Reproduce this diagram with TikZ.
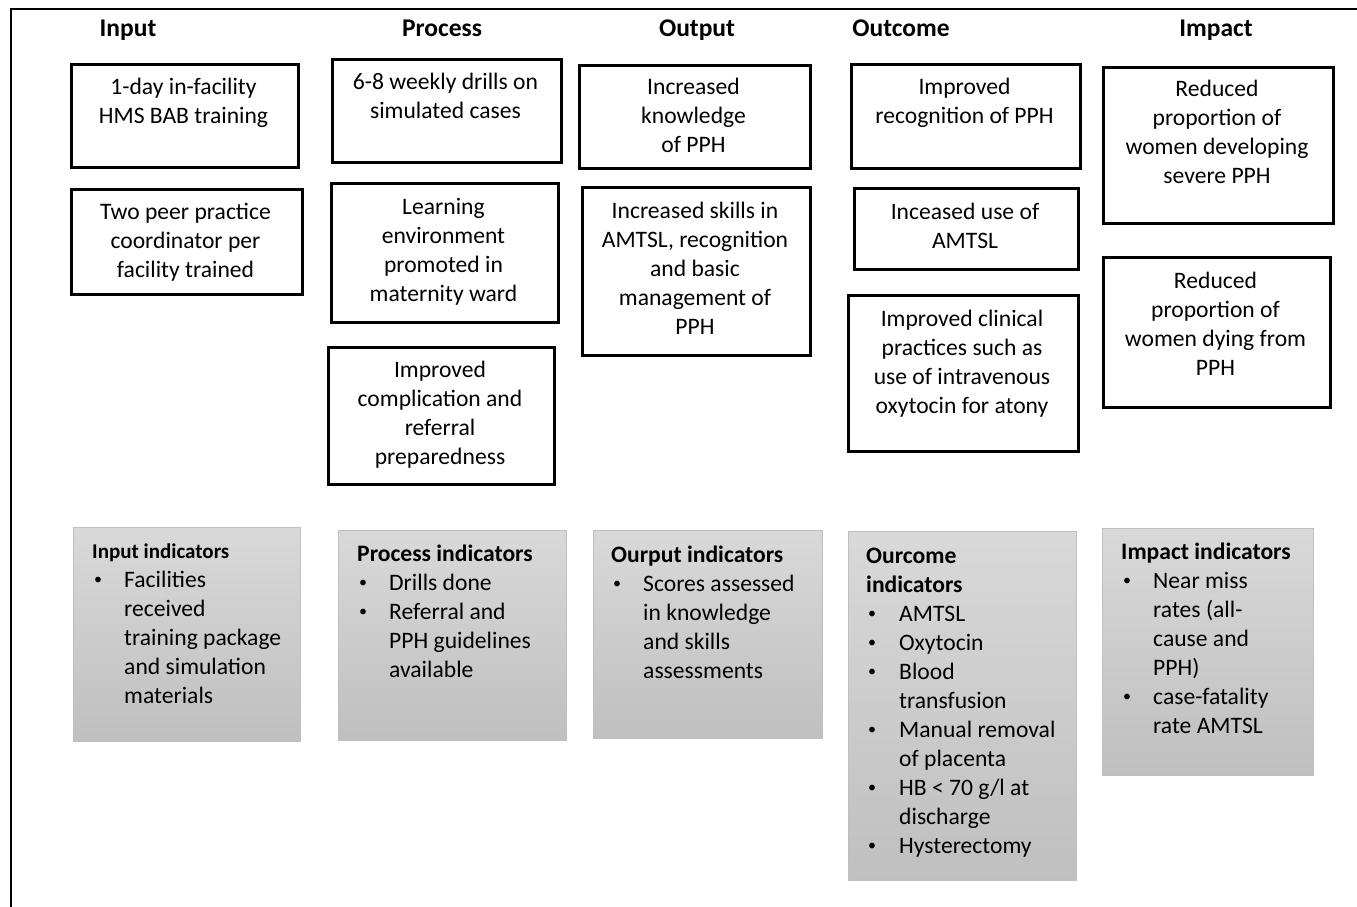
\documentclass[tikz,border=0pt]{standalone}
\usepackage{fontspec}
\setmainfont{Carlito}
\usepackage{array}
\begin{document}
\begin{tikzpicture}[x=1pt,y=-1pt,
  obox/.style={draw, line width=2.8pt, inner sep=0pt, anchor=north west},
  otxt/.style={font=\fontsize{23.6}{29}\selectfont, align=center, inner sep=0pt, anchor=north},
  ibox/.style={draw=gray!50, line width=0.8pt, top color=gray!30, bottom color=gray!50, inner sep=0pt, anchor=north west},
  itxt/.style={font=\fontsize{23.6}{29}\selectfont, inner sep=0pt, anchor=north west},
  head/.style={font=\fontsize{25.5}{30}\selectfont\bfseries, inner sep=0pt, anchor=base}]
\useasboundingbox (0,0) rectangle (1357,907);
\newcommand{\bul}{\makebox[32pt][l]{\hspace{2pt}\raisebox{2.5pt}{\fontsize{16}{29}\selectfont\textbullet}}}
% frame
\coordinate (fbl) at (11,907);
\coordinate (ftl) at (11,9);
\coordinate (ftr) at (1357,9);
\draw[line width=2.5pt] (fbl) -- (ftl) -- (ftr);
% headings
\node[head] (hin) at (128,37) {Input};
\node[head] (hpr) at (442,37) {Process};
\node[head] (hou) at (697,37) {Output};
\node[head] (hoc) at (901,37) {Outcome};
\node[head] (him) at (1216,37) {Impact};
% input
\node[obox, minimum width=227pt, minimum height=103pt] (b1) at (70,63) {};
\node[otxt] (b1t) at (183.5,73.7) {\strut 1-day in-facility\\HMS BAB training};
\node[obox, minimum width=231pt, minimum height=105pt] (b2) at (70,188) {};
\node[otxt] (b2t) at (185.5,198.7) {\strut Two peer practice\\coordinator per\\facility trained};
% process
\node[obox, minimum width=229pt, minimum height=103pt] (p1) at (331,58) {};
\node[otxt] (p1t) at (445.5,68.7) {\strut 6-8 weekly drills on\\simulated cases};
\node[obox, minimum width=227pt, minimum height=139pt] (p2) at (330,182) {};
\node[otxt] (p2t) at (443.5,193.7) {\strut Learning\\environment\\promoted in\\maternity ward};
\node[obox, minimum width=226pt, minimum height=137pt] (p3) at (327,346) {};
\node[otxt] (p3t) at (440,356.7) {\strut Improved\\complication and\\referral\\preparedness};
% output
\node[obox, minimum width=231pt, minimum height=103pt] (o1) at (578,64) {};
\node[otxt] (o1t) at (693.5,73.7) {\strut Increased\\knowledge\\of PPH};
\node[obox, minimum width=228pt, minimum height=168pt] (o2) at (581,186) {};
\node[otxt] (o2t) at (695,197.7) {\strut Increased skills in\\AMTSL, recognition\\and basic\\management of\\PPH};
% outcome
\node[obox, minimum width=229pt, minimum height=104pt] (c1) at (850,63) {};
\node[otxt] (c1t) at (964.5,73.7) {\strut Improved\\recognition of PPH};
\node[obox, minimum width=224pt, minimum height=81pt] (c2) at (853,187) {};
\node[otxt] (c2t) at (965,198.7) {\strut Inceased use of\\AMTSL};
\node[obox, minimum width=230pt, minimum height=156pt] (c3) at (847,294) {};
\node[otxt] (c3t) at (962,305.7) {\strut Improved clinical\\practices such as\\use of intravenous\\oxytocin for atony};
% impact
\node[obox, minimum width=230pt, minimum height=156pt] (m1) at (1102,66) {};
\node[otxt] (m1t) at (1217,75.7) {\strut Reduced\\proportion of\\women developing\\severe PPH};
\node[obox, minimum width=227pt, minimum height=150pt] (m2) at (1102,256) {};
\node[otxt] (m2t) at (1215.5,267.7) {\strut Reduced\\proportion of\\women dying from\\PPH};
% indicators
\node[ibox, minimum width=227pt, minimum height=214pt] (ii) at (73,527) {};
\node[itxt] (iit) at (92,537.5) {\begin{tabular}{@{}p{32pt}@{}l@{}}
\multicolumn{2}{@{}l@{}}{\fontsize{21}{29}\selectfont\bfseries Input indicators}\\
\bul & Facilities\\
 & received\\
 & training package\\
 & and simulation\\
 & materials
\end{tabular}};
\node[ibox, minimum width=228pt, minimum height=210pt] (pi) at (338,530) {};
\node[itxt] (pit) at (357,540.7) {\begin{tabular}{@{}p{32pt}@{}l@{}}
\multicolumn{2}{@{}l@{}}{\bfseries Process indicators}\\
\bul & Drills done\\
\bul & Referral and\\
 & PPH guidelines\\
 & available
\end{tabular}};
\node[ibox, minimum width=229pt, minimum height=208pt] (oi) at (593,530) {};
\node[itxt] (oit) at (611,541.7) {\begin{tabular}{@{}p{32pt}@{}l@{}}
\multicolumn{2}{@{}l@{}}{\bfseries Ourput indicators}\\
\bul & Scores assessed\\
 & in knowledge\\
 & and skills\\
 & assessments
\end{tabular}};
\node[ibox, minimum width=228pt, minimum height=349pt] (ci) at (848,531) {};
\node[itxt] (cit) at (866,542.7) {\begin{tabular}{@{}p{33pt}@{}l@{}}
\multicolumn{2}{@{}l@{}}{\bfseries Ourcome}\\
\multicolumn{2}{@{}l@{}}{\bfseries indicators}\\
\bul & AMTSL\\
\bul & Oxytocin\\
\bul & Blood\\
 & transfusion\\
\bul & Manual removal\\
 & of placenta\\
\bul & HB < 70 g/l at\\
 & discharge\\
\bul & Hysterectomy
\end{tabular}};
\node[ibox, minimum width=211pt, minimum height=247pt] (mi) at (1102,528) {};
\node[itxt] (mit) at (1121,538.7) {\begin{tabular}{@{}p{32pt}@{}l@{}}
\multicolumn{2}{@{}l@{}}{\bfseries Impact indicators}\\
\bul & Near miss\\
 & rates (all-\\
 & cause and\\
 & PPH)\\
\bul & case-fatality\\
 & rate AMTSL
\end{tabular}};
\end{tikzpicture}
\end{document}
